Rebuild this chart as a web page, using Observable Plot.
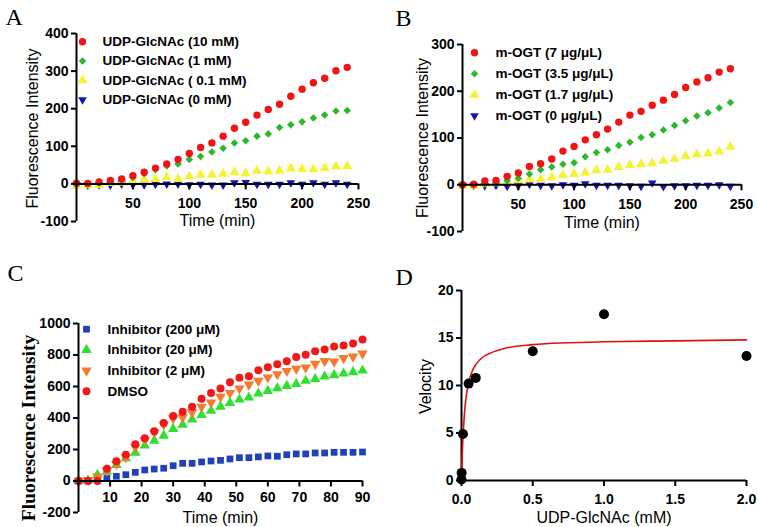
<!DOCTYPE html>
<html>
<head>
<meta charset="utf-8">
<script src="https://cdn.jsdelivr.net/npm/d3@7"></script>
<script src="https://cdn.jsdelivr.net/npm/@observablehq/plot@0.6"></script>
<style>
  html, body { margin: 0; padding: 0; background: #fff; }
  #chart { position: relative; width: 758px; height: 527px; background: #fff; overflow: hidden; }
  #chart > svg { position: absolute; }
</style>
</head>
<body>
<div id="chart"></div>
<script>
// ---------- Panel A data ----------
const timeA = [0,10,20,30,40,50,60,70,80,90,100,110,120,130,140,150,160,170,180,190,200,210,220,230,240];
const udp10 = [2,1,5,9,13,22,31,42,53,65,81,97,109,127,148,164,183,198,212,233,252,269,281,301,310];
const udp1 = [0,0,2,5,9,17,27,38,48,53,65,73,85,95,109,115,127,133,150,157,165,175,183,194,195];
const udp01 = [-5,-4,-3,2,3,7,11,13,18,13,20,24,24,27,31,28,35,33,35,41,39,39,42,46,47];
const udp0 = [-2,-3,-2,-3,0,-2,-2,-1,0,0,-2,-1,-3,-3,3,4,-1,-1,-1,3,-1,3,-1,3,-1];
const labelsA = ["UDP-GlcNAc (10 mM)", "UDP-GlcNAc (1 mM)", "UDP-GlcNAc ( 0.1 mM)", "UDP-GlcNAc (0 mM)"];
const xTicksA = [50,100,150,200,250];
const yTicksA = [-100,0,100,200,300,400];

// ---------- Panel B data ----------
const timeB = [0,10,20,30,40,50,60,70,80,90,100,110,120,130,140,150,160,170,180,190,200,210,220,230,240];
const ogt7 = [0,1,8,9,18,25,39,45,55,72,82,96,107,119,134,149,157,170,181,193,208,220,229,241,248];
const ogt35 = [0,0,2,5,9,14,23,32,38,44,47,60,69,75,84,91,101,107,117,127,137,147,154,164,176];
const ogt17 = [-2,-2,1,3,6,10,11,12,16,21,23,26,31,32,38,42,44,46,51,55,61,65,67,71,81];
const ogt0 = [-1,-1,-2,-1,-3,-2,1,-1,-2,0,-1,2,-1,-1,-1,-2,-3,4,-4,-2,-2,-1,-1,0,-3];
const labelsB = ["m-OGT (7 \u03bcg/\u03bcL)", "m-OGT (3.5 \u03bcg/\u03bcL)", "m-OGT (1.7 \u03bcg/\u03bcL)", "m-OGT (0 \u03bcg/\u03bcL)"];
const xTicksB = [50,100,150,200,250];
const yTicksB = [-100,0,100,200,300];

// ---------- Panel C data ----------
const timeC = [0,3,6,9,12,15,18,21,24,27,30,33,36,39,42,45,48,51,54,57,60,63,66,69,72,75,78,81,84,87,90];
const inh200 = [0,0,17,19,30,40,55,70,76,81,97,112,112,121,127,131,140,148,148,153,159,157,167,172,172,178,178,182,182,182,184];
const inh20 = [0,5,40,60,102,144,180,225,256,288,331,358,390,419,447,472,496,517,530,555,572,589,604,616,636,648,663,672,682,691,701];
const inh2 = [0,6,28,66,108,150,214,260,307,358,398,405,436,472,498,534,559,587,612,636,657,678,699,712,720,744,761,758,780,790,809];
const dmso = [0,0,0,78,125,167,233,271,316,369,413,439,472,523,559,587,627,655,665,703,722,742,761,788,801,824,835,854,860,873,898];
const labelsC = ["Inhibitor (200 \u03bcM)", "Inhibitor (20 \u03bcM)", "Inhibitor (2 \u03bcM)", "DMSO"];
const xTicksC = [10,20,30,40,50,60,70,80,90];
const yTicksC = [-200,0,200,400,600,800,1000];

// ---------- Panel D data ----------
const concD = [0, 0.001, 0.01, 0.05, 0.1, 0.5, 1.0, 2.0];
const velocityD = [0.1, 0.8, 4.9, 10.2, 10.8, 13.6, 17.5, 13.1];
const fitX = [0, 0.005, 0.01, 0.02, 0.03, 0.05, 0.075, 0.1, 0.15, 0.2, 0.3, 0.5, 0.75, 1.0, 1.5, 2.0];
const fitY = [0, 2.6, 4.4, 6.9, 8.5, 10.3, 11.5, 12.2, 13.0, 13.4, 13.9, 14.3, 14.5, 14.6, 14.7, 14.8];
const xTicksD = [0, 0.5, 1.0, 1.5, 2.0];
const yTicksD = [0, 5, 10, 15, 20];

// ---------- helpers ----------
const SANS = "'Liberation Sans', Arial, Helvetica, sans-serif";
const SERIF = "'Liberation Serif', 'Times New Roman', serif";

function axesMarks(cfg) {
  const x0 = cfg.xDomain[0];
  return [
    Plot.ruleY([0], {stroke: "black", strokeWidth: 2}),
    Plot.ruleX([x0], {stroke: "black", strokeWidth: 2}),
    Plot.ruleX(cfg.xTicks, {x: d => d, y1: 0, y2: 0, insetBottom: -6, stroke: "black", strokeWidth: 2}),
    Plot.text(cfg.xTicks, {x: d => d, y: 0, dy: cfg.xTickDy, text: cfg.xFmt, fontSize: 14, fontWeight: "bold", fontFamily: SANS, fill: "black"}),
    Plot.ruleY(cfg.yTicks, {y: d => d, x1: x0, x2: x0, insetLeft: -5, stroke: "black", strokeWidth: 2}),
    Plot.text(cfg.yTicks, {x: x0, y: d => d, dx: -8, textAnchor: "end", text: cfg.yFmt, fontSize: 14, fontWeight: "bold", fontFamily: SANS, fill: "black"}),
    Plot.text([cfg.xLabel], {x: null, y: null, frameAnchor: "bottom", dy: cfg.xLabelDy, textAnchor: "middle", lineAnchor: "middle", text: d => d, fontSize: 16, fontFamily: SANS, fill: "black"}),
    Plot.text([cfg.yLabel], {x: null, y: null, frameAnchor: "left", dx: cfg.yLabelDx, dy: cfg.yLabelDy || 0, rotate: -90, textAnchor: "middle", lineAnchor: "middle", text: d => d, fontSize: cfg.yLabelSize || 16, fontWeight: cfg.yLabelWeight || "normal", fontFamily: cfg.yLabelFont || SANS, fill: "black"}),
    Plot.text([cfg.letter], {x: null, y: null, frameAnchor: "top-left", dx: cfg.letterDx, dy: cfg.letterDy, lineAnchor: "top", textAnchor: "start", text: d => d, fontSize: 24, fontFamily: SERIF, fill: "black"})
  ];
}

function seriesMarks(time, series) {
  return series.map(s => Plot.dot(s.values, {x: time, y: d => d, symbol: s.symbol, fill: s.color, r: s.r, rotate: s.rotate || 0}));
}

function legendMarks(items, lg) {
  const out = [];
  items.forEach((s, i) => {
    out.push(Plot.dot([s.label], {x: null, y: null, frameAnchor: "top-left", dx: lg.mdx, dy: lg.dy + i * lg.step, symbol: s.symbol, fill: s.color, r: s.lr || s.r, rotate: s.rotate || 0}));
    out.push(Plot.text([s.label], {x: null, y: null, frameAnchor: "top-left", dx: lg.tdx, dy: lg.dy + i * lg.step, text: d => d, textAnchor: "start", lineAnchor: "middle", fontSize: 13.5, fontWeight: "bold", fontFamily: SANS, fill: "black"}));
  });
  return out;
}

function makePlot(cfg, marks) {
  const svg = Plot.plot({
    width: cfg.width, height: cfg.height,
    marginLeft: cfg.m[0], marginRight: cfg.m[1], marginTop: cfg.m[2], marginBottom: cfg.m[3],
    x: {domain: cfg.xDomain, axis: null},
    y: {domain: cfg.yDomain, axis: null},
    style: {fontFamily: SANS, background: "transparent", color: "black", overflow: "visible"},
    marks
  });
  svg.style.left = cfg.left + "px";
  svg.style.top = cfg.top + "px";
  return svg;
}

const chart = document.getElementById("chart");
const fmtInt = d => String(d);

// ---------- Panel A ----------
const seriesA = [
  {label: labelsA[0], values: udp10, symbol: "circle", color: "#f01414", r: 3.7},
  {label: labelsA[1], values: udp1, symbol: "diamond2", color: "#2cb82c", r: 3.4},
  {label: labelsA[2], values: udp01, symbol: "triangle", color: "#f6f238", r: 3.8},
  {label: labelsA[3], values: udp0, symbol: "triangle", color: "#1414b4", r: 3.2, rotate: 180}
];
const cfgA = {left: 0, top: 0, width: 380, height: 270, m: [76, 22, 33, 49],
  xDomain: [0, 250], yDomain: [-100, 400], xTicks: xTicksA, yTicks: yTicksA, xFmt: fmtInt, yFmt: fmtInt,
  xTickDy: 20, xLabel: "Time (min)", xLabelDy: -1, yLabel: "Fluorescence Intensity", yLabelDx: -44, yLabelDy: 1,
  letter: "A", letterDx: -71, letterDy: -26};
chart.appendChild(makePlot(cfgA, [
  ...seriesMarks(timeA, seriesA.slice().reverse()),
  ...axesMarks(cfgA),
  ...legendMarks(seriesA, {mdx: 6, tdx: 26, dy: 8.3, step: 19.3})
]));

// ---------- Panel B ----------
const seriesB = [
  {label: labelsB[0], values: ogt7, symbol: "circle", color: "#f01414", r: 3.7},
  {label: labelsB[1], values: ogt35, symbol: "diamond2", color: "#2cb82c", r: 3.4},
  {label: labelsB[2], values: ogt17, symbol: "triangle", color: "#f6f238", r: 3.8},
  {label: labelsB[3], values: ogt0, symbol: "triangle", color: "#1414b4", r: 3.2, rotate: 180}
];
const cfgB = {left: 380, top: 0, width: 378, height: 270, m: [82, 17, 44, 39],
  xDomain: [0, 250], yDomain: [-100, 300], xTicks: xTicksB, yTicks: yTicksB, xFmt: fmtInt, yFmt: fmtInt,
  xTickDy: 20, xLabel: "Time (min)", xLabelDy: -9, yLabel: "Fluorescence Intensity", yLabelDx: -40, yLabelDy: 0,
  letter: "B", letterDx: -67, letterDy: -36};
chart.appendChild(makePlot(cfgB, [
  ...seriesMarks(timeB, seriesB.slice().reverse()),
  ...axesMarks(cfgB),
  ...legendMarks(seriesB, {mdx: 12, tdx: 33, dy: 8.3, step: 21})
]));

// ---------- Panel C ----------
const seriesC = [
  {label: labelsC[0], values: inh200, symbol: "square", color: "#2040bc", r: 3.8},
  {label: labelsC[1], values: inh20, symbol: "triangle", color: "#30e030", r: 3.9},
  {label: labelsC[2], values: inh2, symbol: "triangle", color: "#f47a30", r: 3.9, rotate: 180},
  {label: labelsC[3], values: dmso, symbol: "circle", color: "#f01818", r: 4}
];
const cfgC = {left: 0, top: 255, width: 380, height: 272, m: [78, 18, 68, 15],
  xDomain: [0, 90], yDomain: [-200, 1000], xTicks: xTicksC, yTicks: yTicksC, xFmt: fmtInt, yFmt: fmtInt,
  xTickDy: 17, xLabel: "Time (min)", xLabelDy: 5, yLabel: "Fluorescence Intensity", yLabelDx: -50, yLabelDy: 10,
  yLabelSize: 19.5, yLabelWeight: "bold", yLabelFont: SERIF,
  letter: "C", letterDx: -71, letterDy: -60};
chart.appendChild(makePlot(cfgC, [
  ...seriesMarks(timeC, seriesC),
  ...axesMarks(cfgC),
  ...legendMarks(seriesC, {mdx: 8, tdx: 29, dy: 5.7, step: 20.7})
]));

// ---------- Panel D ----------
const cfgD = {left: 380, top: 255, width: 378, height: 272, m: [81, 12, 35, 47],
  xDomain: [0, 2], yDomain: [0, 20], xTicks: xTicksD, yTicks: yTicksD, xFmt: d => d.toFixed(1), yFmt: fmtInt,
  xTickDy: 19, xLabel: "UDP-GlcNAc (mM)", xLabelDy: 37, yLabel: "Velocity", yLabelDx: -36, yLabelDy: 1,
  letter: "D", letterDx: -66, letterDy: -23};
chart.appendChild(makePlot(cfgD, [
  ...axesMarks(cfgD),
  Plot.line(fitX, {x: d => d, y: (d, i) => fitY[i], curve: "monotone-x", stroke: "#e01010", strokeWidth: 1.6}),
  Plot.dot(velocityD, {x: concD, y: d => d, r: 5, fill: "black"})
]));
</script>
</body>
</html>
